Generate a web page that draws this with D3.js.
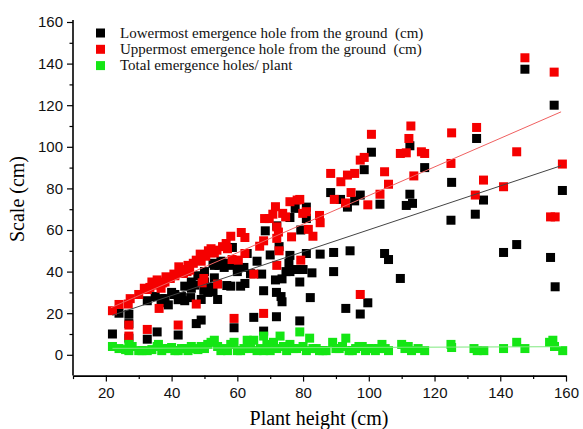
<!DOCTYPE html>
<html><head><meta charset="utf-8">
<script src="https://cdn.jsdelivr.net/npm/d3@7"></script>
<style>body{margin:0;background:#fff}svg{display:block}</style>
</head><body>
<svg id="c" width="583" height="429"></svg>
<script>
// ---- data (plant height x, value y) ----
const lowerX = [22,24,27,27,27,32.6,35.6,32.6,35,36.8,39,38,40.7,42,43,44,42,45.8,46,47,47.5,49,49,49.8,51,51.7,52.6,53,54,52.6,54.4,55.5,56.8,58,58.5,59,61,62.3,62,60,63,65,67.4,68,68,68.5,71.9,71.9,71.6,73.6,73.3,73.6,72.7,74.8,75.7,76,76,77.6,79.3,79,79,80,81,81,81,82.7,82.2,85.2,88.4,89.3,89.3,91.4,93,93.5,94.3,95.7,97.4,98.6,97.4,99.7,100.8,103.4,104.8,106,109.6,111.4,112.5,113.3,112.5,117,125,125.2,132.4,132.8,134.9,141,145,147.5,155.3,156.4,156.7,158.9,40,44,46,48,50,53,56,58,60,64,55,66,37,41,50,57,70,72,76,78];
const lowerY = [10,20,19.5,15,8,7.5,11,26,28,25,24,27,29,26.5,28,26,9.5,27.5,32,33.5,15,16.7,26.6,31,30,32.4,30.3,37,26.6,44,43,44,33.3,33,51.6,13,33,34.3,42,42,48.7,18,38.8,30.8,11.4,59.6,18.3,30,36,36.5,28,25.5,52,40,44,47.8,66,70.4,60,35,16.3,41,48.7,65.5,71,39.4,27.5,48.4,78,49.2,40,74.7,22.3,71,50,74,76.8,89,19.6,25,97.4,72.4,48.7,45.8,36.7,71.8,77.2,72.8,100.5,90,64.7,82.9,67.6,104,74.4,49.2,53,137.3,46.8,120,32.7,79,30,33,35,38,40,43,42,43,40,39,45,45,27,29,35,44,48,62,40,41];
const upperX = [22,24,27.4,26.8,27,27,32.6,32.6,33.4,34.5,35.6,36.2,36.8,37.3,38.3,39.6,40.7,42,42.2,43.6,44.7,45.5,46.6,47.5,47.5,48.7,49.3,49.8,50.4,51.2,52,53.8,54,55.5,56.6,58,58.4,59,60.3,61.2,62.3,62.3,65,66.8,68,68,68.3,69.7,70.8,71.6,72,72,72,72.5,72.7,73.8,74.7,76,76.5,78.2,79,79.3,79.9,81,81.6,83,85,85.2,88.4,89.5,91.5,92.9,93.5,94.6,95.7,97.4,97.4,98.6,99.7,100.8,103.4,104.8,106,109.6,111.4,112.2,112.8,113.7,116,117,125,125.2,132.4,132.8,134.9,141,145,147.5,155.3,156.4,156.7,158.9,31.7,34,38,41,43,45,49,50,53,57,30,52];
const upperY = [21.2,24.2,27,24.4,14.3,9,12.2,31.4,32.4,33.5,36,22.3,32,34.6,37.5,36.7,38.8,14.3,42.3,39.1,40,40.7,44,45.5,24.4,48.4,34.6,36.7,47.4,50,51,50.3,34,52,53.5,57,45.8,17.5,45.5,58.8,56.4,48.7,38.8,52.2,19.9,54.8,65.5,65.5,67.6,71.2,61.5,56,43,59,50,68,66.3,73.6,56.7,74.4,74.7,45.5,68,68.8,60.3,57,67,63.5,87.2,74.7,83.2,73,86.4,78,87.2,93.6,29,94.9,72.1,106,77.2,88,82,96.8,97.1,104,110,86,97.6,96.8,92,106.7,76.8,109.3,84,80.8,97.6,142.8,66.3,135.9,66.3,91.7,32,35,35,38,41,43,45,48,49,51,29,49];
const holesX = [22,24,26,27,27,28,32.6,34,35.6,36,38,40,42,44,46,48,49,50,51,52,53,54,56,58,59,60,62,63,65,67,68,68,69,71,72,73,74,75,76,78,79,80,81,82,84,86,89,90,93,94,96,98,100,103,104,106,110,112,113,115,117,125,125.2,132,133,135,141,145,147.5,155,156,156.5,159,30,31,37,39,41,43,45,47,55,57,61,64,66,70,77,83,85,87,91,92,95,97,99,101,102,105,111];
const holesY = [4,3,2.5,2,5,4,2,2.5,4,5,3,3.5,2,3,4,2.5,4,3,5,6,7,4,3,5,6,2,3,7,7,3,9,2,5,6,3,9,4,2,5,3,11,4,2,8,3,2,6,3,8,2,3,4,3,3,5,2,5,4,2,3,2,5,3.5,3,2,2,3,6,3,6,7,4,2,2,2,2,3,2,3,2,3,2,2,2,3,2,2,3,3,2,2,3,4,2,4,2,3,2,3,3];
// fitted lines: [x0, y0, x1, y1]
const fitLower = [22, 19, 158.5, 90.9];
const fitUpper = [21.5, 22.6, 158.5, 116.8];
const fitHoles = [22, 3.1, 158.5, 3.9];
const xTicks = [20,40,60,80,100,120,140,160];
const yTicks = [0,20,40,60,80,100,120,140,160];
const legendLabels = ["Lowermost emergence hole from the ground  (cm)","Uppermost emergence hole from the ground  (cm)","Total emergence holes/ plant"];

const svg = d3.select("#c");
const x = d3.scaleLinear().domain([10,160]).range([73,566]);
const y = d3.scaleLinear().domain([-10,160]).range([375.6,22]);
const sans = "'Liberation Sans', Arial, sans-serif";
const serif = "'Liberation Serif', 'Times New Roman', serif";

// axes
svg.append("g").attr("transform","translate(0,375.6)")
  .call(d3.axisBottom(x).tickValues(xTicks).tickSize(6).tickSizeOuter(0).tickPadding(6));
svg.append("g").attr("transform","translate(0,375.6)")
  .call(d3.axisBottom(x).tickValues(d3.range(10,160,20)).tickSize(3.5).tickFormat("").tickSizeOuter(0))
  .select(".domain").remove();
const yAxis = svg.append("g").attr("transform","translate(73,0)")
  .call(d3.axisLeft(y).tickValues(yTicks).tickSize(6).tickSizeOuter(0).tickPadding(4));
svg.append("g").attr("transform","translate(73,0)")
  .call(d3.axisLeft(y).tickValues(d3.range(-10,160,20).filter(v=>v>-10)).tickSize(3.5).tickFormat("").tickSizeOuter(0))
  .select(".domain").remove();
svg.selectAll(".domain").attr("stroke","#000").attr("stroke-width",1.6);
svg.selectAll(".tick line").attr("stroke","#000").attr("stroke-width",1.2);
svg.selectAll(".tick text").attr("font-family",sans).attr("font-size",15).attr("fill","#111");
yAxis.select(".domain").attr("d","M0,375.6V20");

// axis titles
svg.append("text").attr("x",319).attr("y",425).attr("text-anchor","middle")
  .attr("font-family",serif).attr("font-size",20).text("Plant height (cm)");
svg.append("text").attr("transform","translate(24,199) rotate(-90)").attr("text-anchor","middle")
  .attr("font-family",serif).attr("font-size",20).text("Scale (cm)");

const S = 9;
function plot(xs, ys, color){
  svg.append("g").selectAll("rect").data(xs.map((v,i)=>[v,ys[i]])).join("rect")
    .attr("x",d=>x(d[0])-S/2).attr("y",d=>y(d[1])-S/2)
    .attr("width",S).attr("height",S).attr("fill",color);
}
plot(lowerX, lowerY, "#000");
plot(upperX, upperY, "#f50000");
plot(holesX, holesY, "#14e614");

function fit(f, color){
  svg.append("line").attr("x1",x(f[0])).attr("y1",y(f[1])).attr("x2",x(f[2])).attr("y2",y(f[3]))
    .attr("stroke",color).attr("stroke-width",1);
}
fit(fitLower, "#444");
fit(fitUpper, "#f06060");
fit(fitHoles, "#7ee87e");

// legend
const legColors = ["#000","#f50000","#14e614"];
legendLabels.forEach((t,i)=>{
  const cy = 33 + i*16.3;
  svg.append("rect").attr("x",96).attr("y",cy-4.5).attr("width",9).attr("height",9).attr("fill",legColors[i]);
  svg.append("text").attr("x",120).attr("y",cy+4.8).attr("font-family",serif).attr("font-size",15)
    .style("white-space","pre").attr("fill","#111").text(t);
});
</script>
</body></html>
